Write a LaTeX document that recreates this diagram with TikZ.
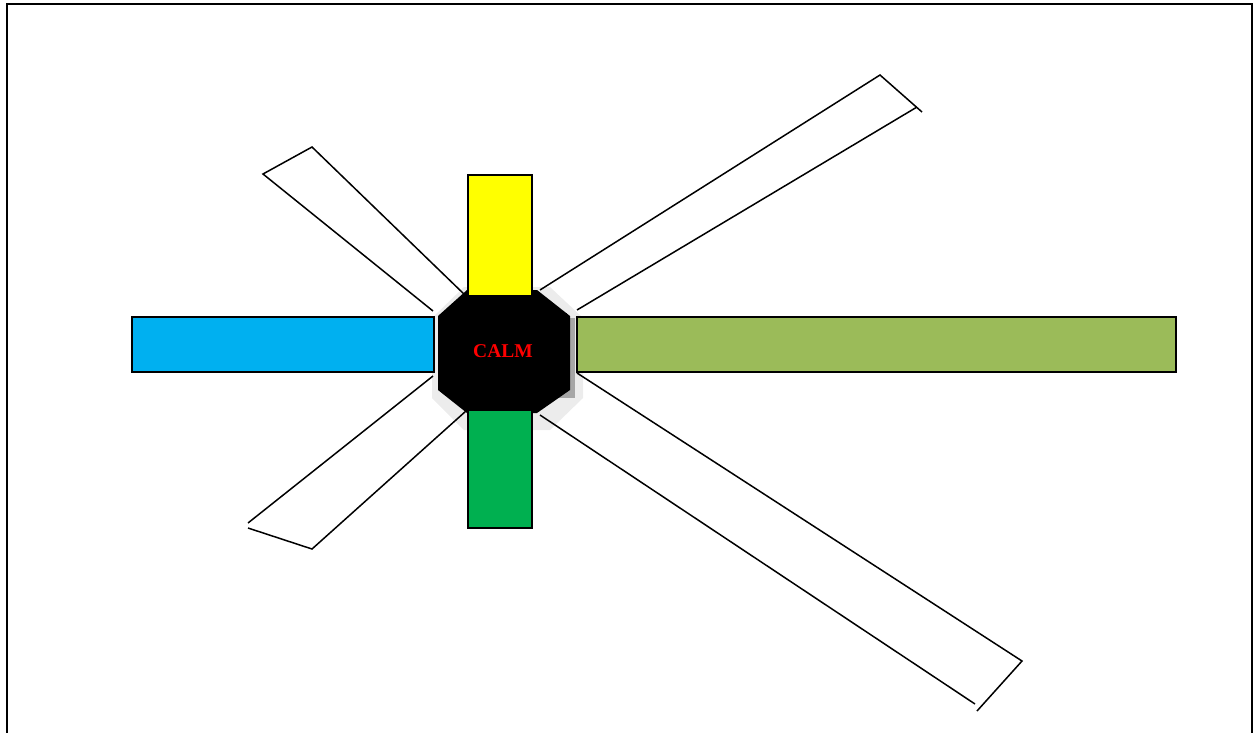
\documentclass[tikz,border=0pt]{standalone}
\usepackage{fontspec}
\setmainfont{Liberation Serif}
\definecolor{barblue}{HTML}{00B0F0}
\definecolor{baryellow}{HTML}{FFFF00}
\definecolor{bargreen}{HTML}{00B050}
\definecolor{barolive}{HTML}{9BBB59}
\begin{document}
\begin{tikzpicture}[x=1pt,y=-1pt,
  spoke/.style={draw=black,line width=1.5pt,line join=miter},
  bar/.style={draw=black,line width=1.3pt},
  frame/.style={draw=black,line width=2pt}]
\useasboundingbox (0,0) rectangle (1253,732);
% frame
\draw[frame] (6.5,760) -- (6.5,3.5) -- (1251.5,3.5) -- (1251.5,760);
% light shadow
\fill[gray!15] (464,287) -- (550,287) -- (583,318) -- (583,398) -- (550,430) -- (464,430) -- (432,398) -- (432,318) -- cycle;
% spokes
\coordinate (ul1) at (433,311); \coordinate (ul2) at (263,174);
\coordinate (ul3) at (312,147); \coordinate (ul4) at (466,296);
\draw[spoke] (ul1) -- (ul2) -- (ul3) -- (ul4);
\coordinate (ur1) at (540,290); \coordinate (ur2) at (880,75);
\coordinate (ur3) at (922,112); \coordinate (ur4) at (917,107);
\coordinate (ur5) at (577,310);
\draw[spoke] (ur1) -- (ur2) -- (ur3);
\draw[spoke] (ur4) -- (ur5);
\coordinate (ll1) at (433,376); \coordinate (ll2) at (248,523);
\coordinate (ll3) at (248,528); \coordinate (ll4) at (312,549);
\coordinate (ll5) at (466,411);
\draw[spoke] (ll1) -- (ll2);
\draw[spoke] (ll3) -- (ll4) -- (ll5);
\coordinate (lr1) at (577,373); \coordinate (lr2) at (1022,661);
\coordinate (lr3) at (977,711); \coordinate (lr4) at (975,704);
\coordinate (lr5) at (540,415);
\draw[spoke] (lr1) -- (lr2) -- (lr3);
\draw[spoke] (lr4) -- (lr5);
% octagon with dark shadow
\fill[gray!70] (452,318) rectangle (575,398);
\fill[black] (467,290) -- (537,290) -- (570,316) -- (570,390) -- (537,413) -- (467,413) -- (438,390) -- (438,316) -- cycle;
\fill[black] (447,313) rectangle (567,392);
\node[font=\fontsize{19.5}{19.5}\selectfont\bfseries,text=red,inner sep=0pt] (calm) at (503,351) {CALM};
% bars
\draw[bar,fill=baryellow] (468,175) rectangle (532,296);
\draw[bar,fill=bargreen] (468,410) rectangle (532,528);
\draw[bar,fill=barblue] (132,317) rectangle (434,372);
\draw[bar,fill=barolive] (577,317) rectangle (1176,372);
\end{tikzpicture}
\end{document}
